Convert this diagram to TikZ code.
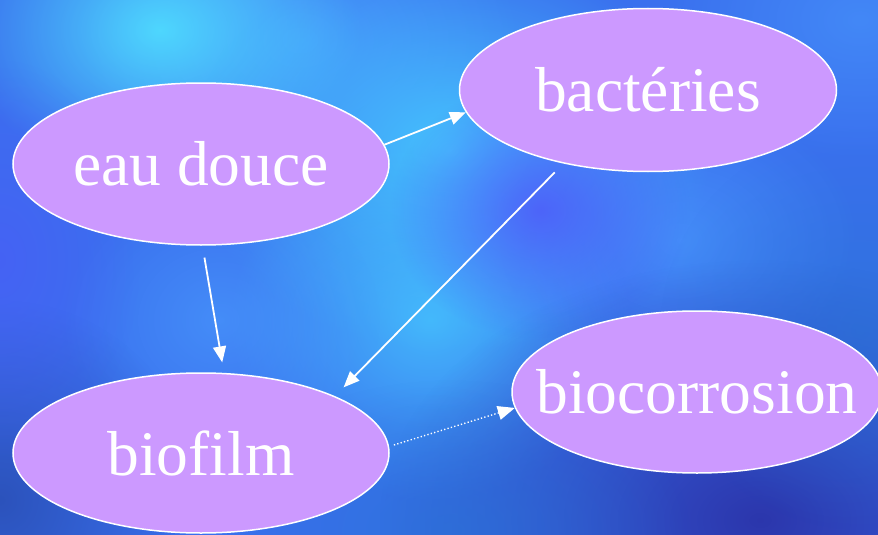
\documentclass[tikz,border=0pt]{standalone}
\usepackage{fontspec}
\setmainfont{Liberation Serif}
\usetikzlibrary{shapes.geometric,arrows.meta,fadings}
\definecolor{bgbase}{RGB}{58,112,238}
\definecolor{lilac}{RGB}{204,153,255}
\definecolor{cyanA}{RGB}{80,225,255}
\definecolor{cyanB}{RGB}{70,200,255}
\definecolor{blueC}{RGB}{75,160,255}
\definecolor{purpD}{RGB}{80,85,250}
\definecolor{darkE}{RGB}{42,48,165}
\definecolor{darkF}{RGB}{40,75,175}
\definecolor{blueG}{RGB}{40,115,210}
\tikzfading[name=softblob, inner color=transparent!0, outer color=transparent!100]
\newcommand{\zbox}[1]{\makebox[0pt]{#1}}
\tikzset{
  oval/.style={ellipse, draw=white, line width=1.5pt, fill=lilac, text=white,
    font=\fontsize{63.5}{63.5}\selectfont, inner sep=0pt},
  arr/.style={-{Triangle[length=16pt,width=13pt]}, white, line width=1.8pt},
  dotarr/.style={-{Triangle[length=17pt,width=14pt]}, white, line width=1.4pt,
    dash pattern=on 1.3pt off 2.2pt},
  blob/.style={fill=#1, path fading=softblob}
}
\begin{document}
\begin{tikzpicture}[x=1pt,y=-1pt]
\useasboundingbox (0,0) rectangle (878,535);
\fill[bgbase] (0,0) rectangle (878,535);
\begin{scope}
\clip (0,0) rectangle (878,535);
\fill[blob=blueC, opacity=0.7] (300,40) ellipse (220 and 160);
\fill[blob=cyanA, opacity=0.9] (160,30) ellipse (200 and 150);
\fill[blob=cyanB, opacity=0.95] (450,150) ellipse (260 and 200);
\fill[blob=cyanB, opacity=0.8] (430,320) ellipse (200 and 180);
\fill[blob=blueC, opacity=0.6] (220,320) ellipse (160 and 140);
\fill[blob=blueC, opacity=0.6] (680,240) ellipse (180 and 140);
\fill[blob=purpD, opacity=0.8] (540,210) ellipse (150 and 130);
\fill[blob=darkE, opacity=0.9] (760,520) ellipse (380 and 260);
\fill[blob=darkF, opacity=0.8] (0,500) ellipse (200 and 200);
\fill[blob=blueG, opacity=0.6] (860,330) ellipse (200 and 200);
\fill[blob=blueG, opacity=0.6] (450,530) ellipse (240 and 150);
\fill[blob=blueC, opacity=0.5] (860,20) ellipse (200 and 140);
\fill[blob=purpD, opacity=0.5] (0,260) ellipse (140 and 200);
\end{scope}

\node[oval, minimum width=376pt, minimum height=162pt] (eau) at (201,164) {\zbox{eau douce}};
\node[oval, minimum width=377pt, minimum height=163pt] (bac) at (648,90) {\zbox{bactéries}};
\node[oval, minimum width=376pt, minimum height=160pt] (bio) at (201,453) {\zbox{biofilm}};
\node[oval, minimum width=370pt, minimum height=162pt] (cor) at (697,392) {\zbox{biocorrosion}};

\draw[arr] (eau.6.5) -- (bac.187);
\draw[arr, shorten <=12pt, shorten >=10.6pt] (eau.271.6) -- (bio.74.8);
\draw[arr, shorten <=12.3pt, shorten >=12.3pt] (bac.221.7) -- (bio.23.6);
\draw[dotarr, shorten <=5pt] (bio.2.6) -- (cor.185.4);
\end{tikzpicture}
\end{document}
